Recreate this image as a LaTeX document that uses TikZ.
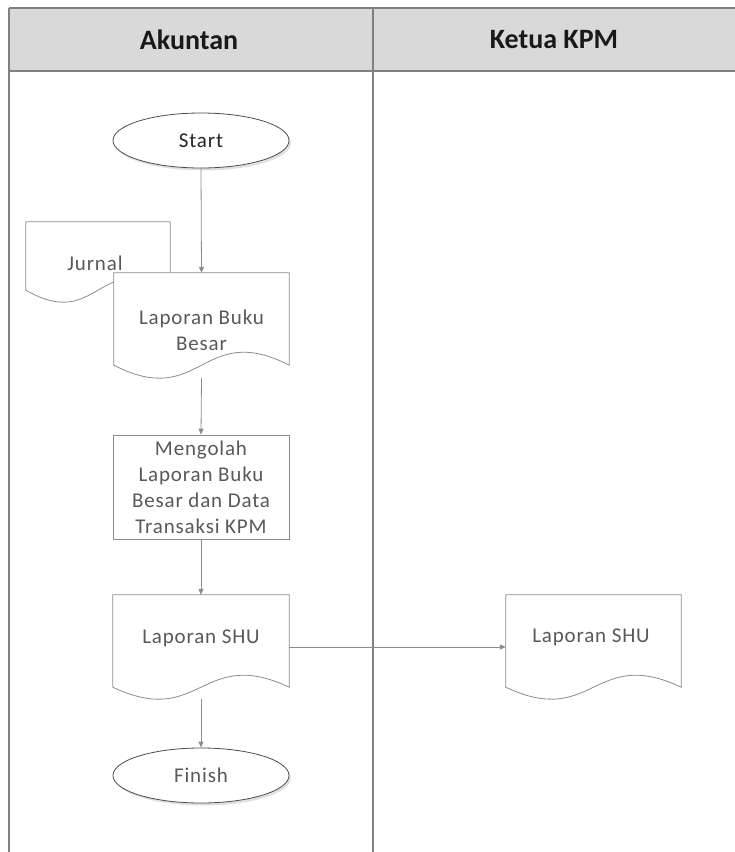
\documentclass[tikz,border=0pt]{standalone}
\usepackage{fontspec}
\setmainfont{Carlito}
\newfontfamily\spacedfont[LetterSpace=4]{Carlito}
\usetikzlibrary{shapes.geometric,calc,arrows.meta,shadows}
\definecolor{laneline}{HTML}{808080}
\definecolor{headfill}{HTML}{D9D9D9}
\definecolor{shapeline}{HTML}{8C8C8C}
\definecolor{txtgray}{HTML}{595959}
\newcommand\docoutline[2]{%
  \filldraw[draw=shapeline, line width=0.8pt, fill=white]
   ($(#1.south west)+(0,-#2)$) -- (#1.north west) -- (#1.north east) -- ($(#1.south east)+(0,-#2)$)
   .. controls ($(#1.south)+(0,-4.46*#2)$) and ($(#1.south)+(0,2.46*#2)$) .. ($(#1.south west)+(0,-#2)$) -- cycle;}
\begin{document}
\begin{tikzpicture}[x=1pt,y=-1pt,
  lane/.style={draw=laneline, line width=1.6pt},
  headtext/.style={font=\bfseries\fontsize{28}{32}\selectfont, text=black!90},
  bodytext/.style={font=\spacedfont\fontsize{21}{26}\selectfont, text=txtgray, align=center, inner sep=0pt},
  terminal/.style={ellipse, draw=black!70, line width=0.8pt, fill=white, minimum width=176pt, minimum height=55pt, inner sep=0pt, bodytext,
     drop shadow={shadow xshift=2pt, shadow yshift=-2.5pt, opacity=0.3, fill=black!40}},
  docnode/.style={rectangle, inner sep=0pt, draw=none},
  procbox/.style={rectangle, draw=shapeline, line width=0.8pt, fill=white, minimum width=176pt, minimum height=104pt, inner sep=0pt, bodytext},
  flow/.style={draw=shapeline, line width=0.8pt, -{Triangle[length=6pt,width=5pt]}},
]
\useasboundingbox (0,0) rectangle (735,852);
% swimlanes
\fill[headfill] (9,8) rectangle (735,70.7);
\coordinate (tl) at (9,8);
\coordinate (tr) at (735,8);
\coordinate (hl) at (9,70.7);
\coordinate (hr) at (735,70.7);
\coordinate (bl) at (9,852);
\coordinate (dt) at (373,8);
\coordinate (db) at (373,852);
\draw[lane] (tl) -- (tr);
\draw[lane] (hl) -- (hr);
\draw[lane] (tl) -- (bl);
\draw[lane] (dt) -- (db);
\node[headtext] (h1) at (189,40) {Akuntan};
\node[headtext] (h2) at (554,40) {Ketua KPM};
% shapes
\node[terminal, text=black!85] (start) at (201,140.5) {Start};
\node[docnode, minimum width=144pt, minimum height=80pt] (jur) at (98,262) {};
\docoutline{jur}{12}
\node[bodytext] (jurtext) at (95,263) {Jurnal};
\node[docnode, minimum width=175pt, minimum height=105pt] (lbb) at (201.5,325.5) {};
\docoutline{lbb}{13}
\node[bodytext] (lbbtext) at (201.5,330) {Laporan Buku\\Besar};
\node[procbox] (proc) at (201,487) {Mengolah\\Laporan Buku\\Besar dan Data\\Transaksi KPM};
\node[docnode, minimum width=176pt, minimum height=104pt] (shu1) at (201,647) {};
\docoutline{shu1}{12}
\node[bodytext] (shu1text) at (201,638) {Laporan SHU};
\node[terminal] (fin) at (201,775.5) {Finish};
\node[docnode, minimum width=175pt, minimum height=104pt] (shu2) at (593.5,647) {};
\docoutline{shu2}{12}
\node[bodytext] (shu2text) at (591,637) {Laporan SHU};
% connectors
\draw[flow] (start.south) -- (lbb.north);
\draw[flow] (lbb.south) -- (proc.north);
\draw[flow] (proc.south) -- (shu1.north);
\draw[flow] (shu1.south) -- (fin.north);
\draw[flow] (shu1.east) -- (shu2.west);
\end{tikzpicture}
\end{document}
